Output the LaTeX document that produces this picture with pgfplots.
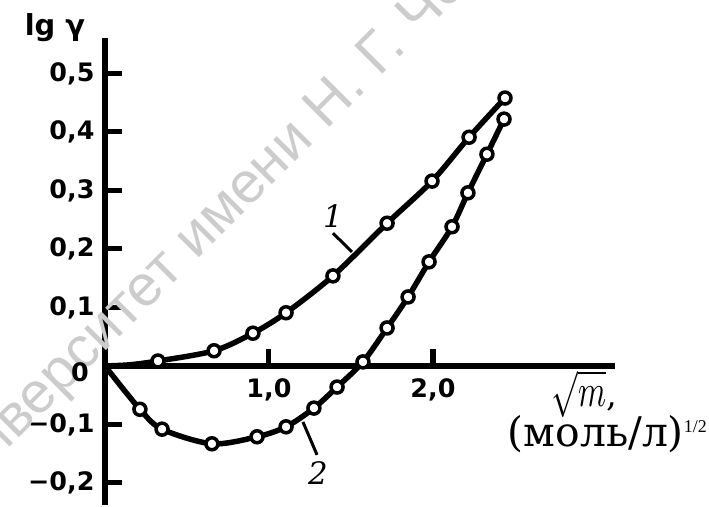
\documentclass[border=0pt]{standalone}
\usepackage{graphicx}
\usepackage{fontspec}
\setmainfont{DejaVu Sans}
\newfontfamily\dvserif{DejaVu Serif}
\newfontfamily\wmfont{Liberation Sans}
\newfontfamily\lserif{Liberation Serif}
\usepackage{pgfplots}
\pgfplotsset{compat=1.18}
\pgfplotstableread{
x y
0.000 0.000
0.150 0.0020
0.323 0.0085
0.665 0.026
0.902 0.056
1.104 0.091
1.390 0.154
1.720 0.244
1.994 0.316
2.220 0.391
2.439 0.458
}\curveone
\pgfplotstableread{
x y
0.323 0.0085
0.665 0.026
0.902 0.056
1.104 0.091
1.390 0.154
1.720 0.244
1.994 0.316
2.220 0.391
2.439 0.458
}\marksone
\pgfplotstableread{
x y
0.000 0.000
0.213 -0.074
0.348 -0.108
0.652 -0.133
0.927 -0.121
1.104 -0.104
1.274 -0.072
1.415 -0.036
1.573 0.007
1.720 0.065
1.848 0.118
1.976 0.178
2.116 0.238
2.213 0.296
2.329 0.362
2.433 0.422
}\curvetwo
\pgfplotstableread{
x y
0.213 -0.074
0.348 -0.108
0.652 -0.133
0.927 -0.121
1.104 -0.104
1.274 -0.072
1.415 -0.036
1.573 0.007
1.720 0.065
1.848 0.118
1.976 0.178
2.116 0.238
2.213 0.296
2.329 0.362
2.433 0.422
}\markstwo
\begin{document}
\begin{tikzpicture}
\begin{axis}[
 x=164bp, y=585bp,
 xmin=0, xmax=3.11, ymin=-0.238, ymax=0.561,
 axis lines=middle,
 axis line style={-, line width=6bp},
 clip=false,
 xtick={1,2}, xticklabels={{1,0},{2,0}},
 ytick={-0.2,-0.1,0.1,0.2,0.3,0.4,0.5},
 yticklabels={{−0,2},{−0,1},{0,1},{0,2},{0,3},{0,4},{0,5}},
 tick align=inside,
 major tick length=17bp,
 tick style={line width=5bp, black},
 tick label style={font=\bfseries\fontsize{25.5}{25.5}\selectfont},
 xticklabel style={yshift=-9bp},
 yticklabel style={xshift=-7bp},
]
\coordinate (bl) at (axis cs:-0.6402,-0.2410);
\coordinate (tr) at (axis cs:3.6829,0.6256);
% watermark
\node[rotate=45, anchor=base east, text=black!20, font=\wmfont\fontsize{58}{58}\selectfont, inner sep=0pt] at (axis cs:1.602,0.473) {университет имени Н.};
\node[rotate=45, anchor=base west, text=black!20, font=\wmfont\fontsize{58}{58}\selectfont, inner sep=0pt] at (axis cs:1.671,0.4925) {Г. Чернышевского};
% curves
\addplot[line width=5.5bp, smooth, no marks] table {\curveone};
\addplot[line width=5.5bp, smooth, no marks] table {\curvetwo};
\addplot[only marks, mark=*, mark size=6bp, mark options={fill=white, draw=black, line width=3.5bp}] table {\marksone};
\addplot[only marks, mark=*, mark size=6bp, mark options={fill=white, draw=black, line width=3.5bp}] table {\markstwo};
% leaders and labels
\draw[line width=3bp] (axis cs:1.390,0.227) -- (axis cs:1.506,0.195);
\node[font=\dvserif\itshape\fontsize{31}{31}\selectfont] at (axis cs:1.390,0.257) {1};
\draw[line width=3bp] (axis cs:1.207,-0.0957) -- (axis cs:1.293,-0.152);
\node[font=\dvserif\itshape\fontsize{31}{31}\selectfont] at (axis cs:1.299,-0.183) {2};
\node[font=\bfseries\fontsize{25.5}{25.5}\selectfont] at (axis cs:-0.152,-0.0103) {0};
\node[font=\bfseries\fontsize{29}{29}\selectfont] at (axis cs:-0.305,0.578) {lg γ};
\node[anchor=base east, inner sep=0pt] at (axis cs:3.122,-0.070) {\scalebox{3.2}[4.6]{$\sqrt{m}$}{\dvserif\fontsize{34}{34}\selectfont ,}};
\node[anchor=base east, inner sep=0pt, font=\dvserif\fontsize{41}{41}\selectfont] at (axis cs:3.671,-0.1368) {(моль/л)\raisebox{14bp}{\lserif\fontsize{18}{18}\selectfont 1/2}};
\end{axis}
\pgfresetboundingbox
\path (bl) rectangle (tr);
\end{tikzpicture}
\end{document}
